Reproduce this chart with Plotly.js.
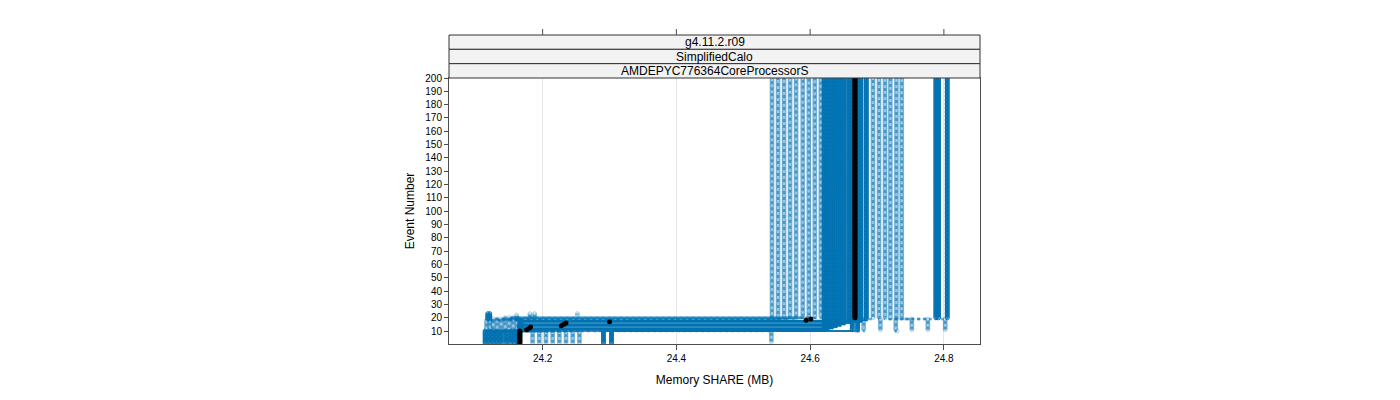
<!DOCTYPE html>
<html><head><meta charset="utf-8">
<script src="https://cdn.plot.ly/plotly-3.0.1.min.js"></script>
<style>html,body{margin:0;padding:0;background:#fff}#chart{width:1400px;height:400px}</style>
</head><body><div id="chart"></div>
<script>
// ---------------- data ----------------
const eventTicks = [10,20,30,40,50,60,70,80,90,100,110,120,130,140,150,160,170,180,190,200];
const memTicks = [24.2, 24.4, 24.6, 24.8];
const memTickLabels = ['24.2', '24.4', '24.6', '24.8'];
const stripLabels = ['g4.11.2.r09', 'SimplifiedCalo', 'AMDEPYC776364CoreProcessorS'];
const lastEvent = 200;

// dark (solid) runs: events 1-10 at low, 11..jump-1 at mid, jump..200 at high
const darkLowX  = [24.114, 24.120, 24.126, 24.132, 24.138, 24.145, 24.152, 24.158, 24.163];
const darkMidX  = [24.166, 24.167, 24.166, 24.168, 24.167, 24.166, 24.168, 24.167, 24.166];
const darkJump  = [11, 12, 13, 14, 15, 16, 17, 18, 19];
const darkHighX = [24.621, 24.627, 24.633, 24.639, 24.645, 24.651, 24.658, 24.676, 24.684];

// dark runs with first events near 24.3
const darkELowX  = [24.291, 24.303];
const darkEHighX = [24.663, 24.671];

// dark runs only present above event 20 near 24.8
const darkDX = [24.788, 24.792, 24.805];
const darkDFirst = [20, 20, 20];

// short runs (few events only)
const darkShortX = [24.118, 24.121];
const darkShortFrom = [19, 19];
const darkShortTo = [23, 23];
const lightShortX = [24.161, 24.181, 24.188, 24.252];
const lightShortFrom = [19, 20, 20, 22];
const lightShortTo = [22, 23, 23, 23];

// light (dashed) runs group A
const lightALowX  = [24.542, 24.185, 24.195, 24.205, 24.215, 24.225, 24.235, 24.245, 24.255];
const lightAMidX  = [24.116, 24.121, 24.126, 24.132, 24.138, 24.144, 24.150, 24.156, 24.162];
const lightAJump  = [19, 19, 20, 20, 20, 21, 21, 21, 21];
const lightAHighX = [24.543, 24.552, 24.561, 24.570, 24.579, 24.589, 24.598, 24.607, 24.616];

// light (dashed) runs group C
const lightCFirst  = [10, 11, 10, 11, 11, 11];
const lightCStartX = [24.670, 24.690, 24.730, 24.745, 24.770, 24.790];
const lightCMidX   = [24.680, 24.705, 24.728, 24.752, 24.776, 24.802];
const lightCHighX  = [24.694, 24.703, 24.712, 24.720, 24.729, 24.737];

// highlighted run (black points)
const blackX = [24.166,24.166,24.166,24.166,24.166,24.166,24.166,24.166,24.166,24.166,
                24.176,24.180,24.182,24.228,24.232,24.235,24.300,24.594,24.601];
const blackHighX = 24.667;

// ---------------- build ----------------
function fromSegments(segs) {
  const xs = [], ys = [];
  for (const [x, a, b] of segs) for (let e = a; e <= b; e++) { xs.push(x); ys.push(e); }
  return {xs, ys};
}
const darkCol = '#0072B2';
const lightCol = 'rgba(0,114,178,0.55)';
const lightMarkCol = 'rgba(0,114,178,0.3)';
const traces = [];
function addTrace(d, light) {
  traces.push({
    type: 'scatter', mode: 'lines+markers', x: d.xs, y: d.ys,
    line: {shape: 'hv', color: light ? lightCol : darkCol, width: light ? 2.5 : 1.4, dash: light ? 'dot' : 'solid'},
    marker: {symbol: 'circle-open', size: 4, color: light ? lightMarkCol : darkCol, line: {width: 1}},
    hoverinfo: 'skip', showlegend: false
  });
}
// light group A
lightAHighX.forEach((hx, i) => addTrace(fromSegments([
  [lightALowX[i], i === 0 ? 2 : 1, 10], [lightAMidX[i], 11, lightAJump[i] - 1], [hx, lightAJump[i], lastEvent]
]), true));
// light group C
lightCHighX.forEach((hx, i) => {
  const segs = [];
  if (lightCFirst[i] === 10) segs.push([lightCStartX[i], 10, 10]);
  segs.push([lightCMidX[i], 11, 19]);
  segs.push([hx, 20, lastEvent]);
  addTrace(fromSegments(segs), true);
});
lightShortX.forEach((x, i) => addTrace(fromSegments([[x, lightShortFrom[i], lightShortTo[i]]]), true));
// dark group B
darkHighX.forEach((hx, i) => addTrace(fromSegments([
  [darkLowX[i], 1, 10], [darkMidX[i], 11, darkJump[i] - 1], [hx, darkJump[i], lastEvent]
]), false));
darkELowX.forEach((lx, i) => addTrace(fromSegments([[lx, 1, 10], [darkEHighX[i], 11, lastEvent]]), false));
darkDX.forEach((x, i) => addTrace(fromSegments([[x, darkDFirst[i], lastEvent]]), false));
darkShortX.forEach((x, i) => addTrace(fromSegments([[x, darkShortFrom[i], darkShortTo[i]]]), false));
// black
const bx = blackX.slice(), by = blackX.map((_, i) => i + 1);
for (let e = blackX.length + 1; e <= lastEvent; e++) { bx.push(blackHighX); by.push(e); }
traces.push({type: 'scatter', mode: 'markers', x: bx, y: by,
  marker: {symbol: 'circle', size: 5, color: '#000'}, hoverinfo: 'skip', showlegend: false});

// ---------------- layout ----------------
const plotH = 400 - 78 - 56;
const py = p => 1 + (78 - p) / plotH;
const stripEdges = [35, 49.33, 63.67, 78];
const shapes = [], annotations = [];
for (let i = 0; i < 3; i++) {
  shapes.push({type: 'rect', xref: 'paper', yref: 'paper', x0: 0, x1: 1,
    y0: py(stripEdges[i + 1]), y1: py(stripEdges[i]),
    fillcolor: '#f2f2f2', line: {color: '#333', width: 1}, layer: 'above'});
  annotations.push({xref: 'paper', yref: 'paper', x: 0.5, y: py((stripEdges[i] + stripEdges[i + 1]) / 2),
    text: stripLabels[i], showarrow: false, xanchor: 'center', yanchor: 'middle',
    font: {size: 12, color: '#000', family: 'Liberation Sans, Arial, sans-serif'}});
}
memTicks.forEach(t => shapes.push({type: 'line', xref: 'x', yref: 'paper', x0: t, x1: t,
  y0: py(35), y1: py(29), line: {color: '#4d4d4d', width: 1}}));

const layout = {
  width: 1400, height: 400,
  margin: {l: 449, r: 420, t: 78, b: 56, pad: 0},
  paper_bgcolor: '#fff', plot_bgcolor: '#fff',
  font: {family: 'Liberation Sans, Arial, sans-serif', color: '#000', size: 10},
  showlegend: false,
  xaxis: {
    range: [24.06, 24.854], tickvals: memTicks, ticktext: memTickLabels,
    ticks: 'outside', ticklen: 5, tickcolor: '#4d4d4d', tickfont: {size: 10},
    showgrid: true, gridcolor: '#e6e6e6', zeroline: false,
    showline: true, mirror: true, linecolor: '#4d4d4d', linewidth: 1,
    title: {text: 'Memory SHARE (MB)', font: {size: 12}, standoff: 12}
  },
  yaxis: {
    range: [0.25, 200], tickvals: eventTicks, ticktext: eventTicks.map(String),
    ticks: 'outside', ticklen: 4, tickcolor: '#4d4d4d', tickfont: {size: 10},
    showgrid: false, zeroline: false,
    showline: true, mirror: true, linecolor: '#4d4d4d', linewidth: 1,
    title: {text: 'Event Number', font: {size: 12}, standoff: 8}
  },
  shapes, annotations
};
Plotly.newPlot('chart', traces, layout, {staticPlot: true, displayModeBar: false});
</script></body></html>
